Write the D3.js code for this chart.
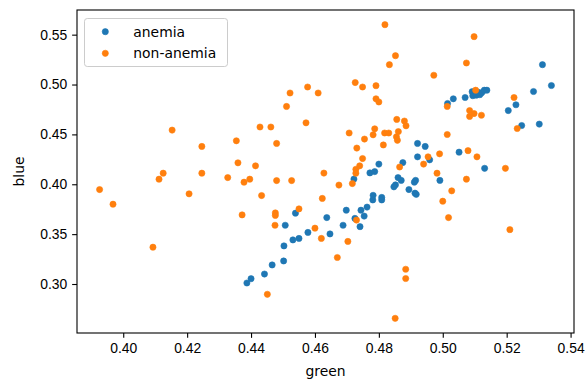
<!DOCTYPE html>
<html>
<head>
<meta charset="utf-8">
<script src="https://cdn.jsdelivr.net/npm/d3@7"></script>
<style>
  body { margin: 0; background: #fff; }
  svg { display: block; font-family: "DejaVu Sans", sans-serif; }
  .tick text { font-size: 13.9px; fill: #000; }
  .tick line { stroke: #000; stroke-width: 1.1; }
</style>
</head>
<body>
<svg id="chart" width="588" height="380"></svg>
<script>
// series names and tick labels
const seriesNames = ['anemia', 'non-anemia'];
const xTicks = [0.40, 0.42, 0.44, 0.46, 0.48, 0.50, 0.52, 0.54];
const yTicks = [0.30, 0.35, 0.40, 0.45, 0.50, 0.55];

// anemia (green, blue)
const anemiaGreen = [0.4387, 0.4400, 0.4442, 0.4466, 0.4502, 0.4503, 0.4507, 0.4531, 0.4550, 0.4539,
  0.4578, 0.4637, 0.4647, 0.4688, 0.4698, 0.4725, 0.4741, 0.4744, 0.4754, 0.4763,
  0.4722, 0.4772, 0.4787, 0.4800, 0.4782, 0.4781, 0.4809, 0.4809, 0.4852, 0.4847,
  0.4860, 0.4870, 0.4894, 0.4913, 0.4917, 0.4915, 0.4911, 0.4991, 0.4875, 0.4921,
  0.4945, 0.4921, 0.4959, 0.5051, 0.5131, 0.5015, 0.5033, 0.5070, 0.5092, 0.5094,
  0.5105, 0.5116, 0.5122, 0.5130, 0.5138, 0.5110, 0.5205, 0.5229, 0.5247, 0.5302,
  0.5284, 0.5312, 0.5340];
const anemiaBlue = [0.3010, 0.3053, 0.3100, 0.3191, 0.3231, 0.3382, 0.3589, 0.3442, 0.3457, 0.3710,
  0.3517, 0.3666, 0.3502, 0.3589, 0.3740, 0.3658, 0.3575, 0.3740, 0.3681, 0.3771,
  0.4052, 0.4114, 0.4127, 0.4202, 0.3889, 0.3843, 0.3868, 0.3843, 0.3994, 0.3974,
  0.4067, 0.4039, 0.3947, 0.3911, 0.3899, 0.4039, 0.4021, 0.4039, 0.4217, 0.4409,
  0.4379, 0.4275, 0.4245, 0.4322, 0.4160, 0.4810, 0.4857, 0.4870, 0.4928, 0.4888,
  0.4893, 0.4898, 0.4918, 0.4943, 0.4943, 0.4923, 0.4739, 0.4797, 0.4589, 0.4603,
  0.4930, 0.5199, 0.4990];

// non-anemia (green, blue)
const nonAnemiaGreen = [0.3926, 0.3968, 0.4093, 0.4112, 0.4125, 0.4153, 0.4206, 0.4246, 0.4246, 0.4327,
  0.4354, 0.4359, 0.4372, 0.4378, 0.4396, 0.4414, 0.4428, 0.4462, 0.4433, 0.4451,
  0.4476, 0.4476, 0.4475, 0.4480, 0.4480, 0.4511, 0.4522, 0.4527, 0.4550, 0.4572,
  0.4577, 0.4600, 0.4610, 0.4620, 0.4623, 0.4628, 0.4670, 0.4675, 0.4703, 0.4707,
  0.4717, 0.4726, 0.4730, 0.4728, 0.4728, 0.4731, 0.4740, 0.4749, 0.4749, 0.4755,
  0.4782, 0.4787, 0.4791, 0.4791, 0.4800, 0.4814, 0.4818, 0.4819, 0.4831, 0.4833,
  0.4852, 0.4851, 0.4855, 0.4858, 0.4856, 0.4861, 0.4865, 0.4880, 0.4884, 0.4884,
  0.4885, 0.4940, 0.4954, 0.4972, 0.4982, 0.4990, 0.5000, 0.5014, 0.5014, 0.5018,
  0.5028, 0.5074, 0.5074, 0.5079, 0.5084, 0.5084, 0.5098, 0.5098, 0.5103, 0.5107,
  0.5121, 0.5196, 0.5210, 0.5223, 0.5233];
const nonAnemiaBlue = [0.3947, 0.3800, 0.3369, 0.4051, 0.4111, 0.4543, 0.3904, 0.4379, 0.4111, 0.4067,
  0.4436, 0.4215, 0.3693, 0.4021, 0.4051, 0.4185, 0.4574, 0.4574, 0.3887, 0.2897,
  0.3713, 0.3688, 0.3589, 0.4409, 0.4037, 0.4780, 0.4915, 0.4037, 0.3753, 0.4616,
  0.4975, 0.3560, 0.4915, 0.3457, 0.3858, 0.4112, 0.3266, 0.3992, 0.3427, 0.4514,
  0.4007, 0.5020, 0.3641, 0.4150, 0.4111, 0.4363, 0.4185, 0.4975, 0.4258, 0.4453,
  0.4496, 0.4556, 0.4988, 0.4857, 0.4825, 0.4394, 0.4514, 0.5600, 0.4514, 0.5199,
  0.5289, 0.2656, 0.4476, 0.4441, 0.4650, 0.4528, 0.4173, 0.4634, 0.3148, 0.3055,
  0.4586, 0.4202, 0.4275, 0.5093, 0.4111, 0.4305, 0.3830, 0.4780, 0.4499, 0.3666,
  0.3934, 0.5216, 0.4051, 0.4337, 0.4739, 0.4680, 0.4709, 0.5480, 0.4943, 0.4275,
  0.4692, 0.4160, 0.3545, 0.4870, 0.4559];

const width = 588, height = 380;
const margin = { top: 10, right: 14, bottom: 47, left: 77 };
const plotW = width - margin.left - margin.right;
const plotH = height - margin.top - margin.bottom;
const colors = ['#1f77b4', '#ff7f0e'];
const tickLen = 4.86;

const series = [
  { name: seriesNames[0], pts: anemiaGreen.map((g, i) => ({ g, b: anemiaBlue[i] })) },
  { name: seriesNames[1], pts: nonAnemiaGreen.map((g, i) => ({ g, b: nonAnemiaBlue[i] })) }
];

// matplotlib-like 5% data margins
function padded(vals) {
  const [lo, hi] = d3.extent(vals);
  const p = (hi - lo) * 0.05;
  return [lo - p, hi + p];
}
const allG = anemiaGreen.concat(nonAnemiaGreen);
const allB = anemiaBlue.concat(nonAnemiaBlue);

const x = d3.scaleLinear().domain(padded(allG)).range([0, plotW]);
const y = d3.scaleLinear().domain(padded(allB)).range([plotH, 0]);

const svg = d3.select('#chart');
const g = svg.append('g').attr('transform', `translate(${margin.left},${margin.top})`);

const gx = g.append('g').attr('transform', `translate(0,${plotH})`)
  .call(d3.axisBottom(x).tickValues(xTicks).tickFormat(d3.format('.2f'))
    .tickSize(tickLen).tickPadding(4.86));
const gy = g.append('g')
  .call(d3.axisLeft(y).tickValues(yTicks).tickFormat(d3.format('.2f'))
    .tickSize(tickLen).tickPadding(4.86));
gx.select('.domain').remove();
gy.select('.domain').remove();
gx.selectAll('text').attr('dy', '0.76em');

// points
series.forEach((s, i) => {
  g.append('g').selectAll('circle')
    .data(s.pts).enter().append('circle')
    .attr('cx', d => x(d.g))
    .attr('cy', d => y(d.b))
    .attr('r', 3.1)
    .attr('fill', colors[i])
    .attr('stroke', colors[i])
    .attr('stroke-width', 0.6);
});

// frame
g.append('rect')
  .attr('width', plotW).attr('height', plotH)
  .attr('fill', 'none').attr('stroke', '#000').attr('stroke-width', 1.1);

// axis labels
svg.append('text')
  .attr('x', margin.left + plotW / 2).attr('y', 376)
  .attr('text-anchor', 'middle').attr('font-size', 13.9)
  .text('green');
svg.append('text')
  .attr('transform', `translate(24,${margin.top + plotH / 2}) rotate(-90)`)
  .attr('text-anchor', 'middle').attr('font-size', 13.9)
  .text('blue');

// legend
const legend = svg.append('g').attr('transform', 'translate(84.5,18.5)');
legend.append('rect')
  .attr('width', 143).attr('height', 48).attr('rx', 2.8)
  .attr('fill', '#fff').attr('fill-opacity', 0.8)
  .attr('stroke', '#cccccc').attr('stroke-width', 1);
seriesNames.forEach((name, i) => {
  const row = legend.append('g').attr('transform', `translate(0,${13.2 + i * 21.6})`);
  row.append('circle').attr('cx', 20.8).attr('cy', 0).attr('r', 3.1)
    .attr('fill', colors[i]).attr('stroke', colors[i]).attr('stroke-width', 0.6);
  row.append('text').attr('x', 48.8).attr('y', 0).attr('dy', '0.35em')
    .attr('font-size', 13.9).text(name);
});
</script>
</body>
</html>
